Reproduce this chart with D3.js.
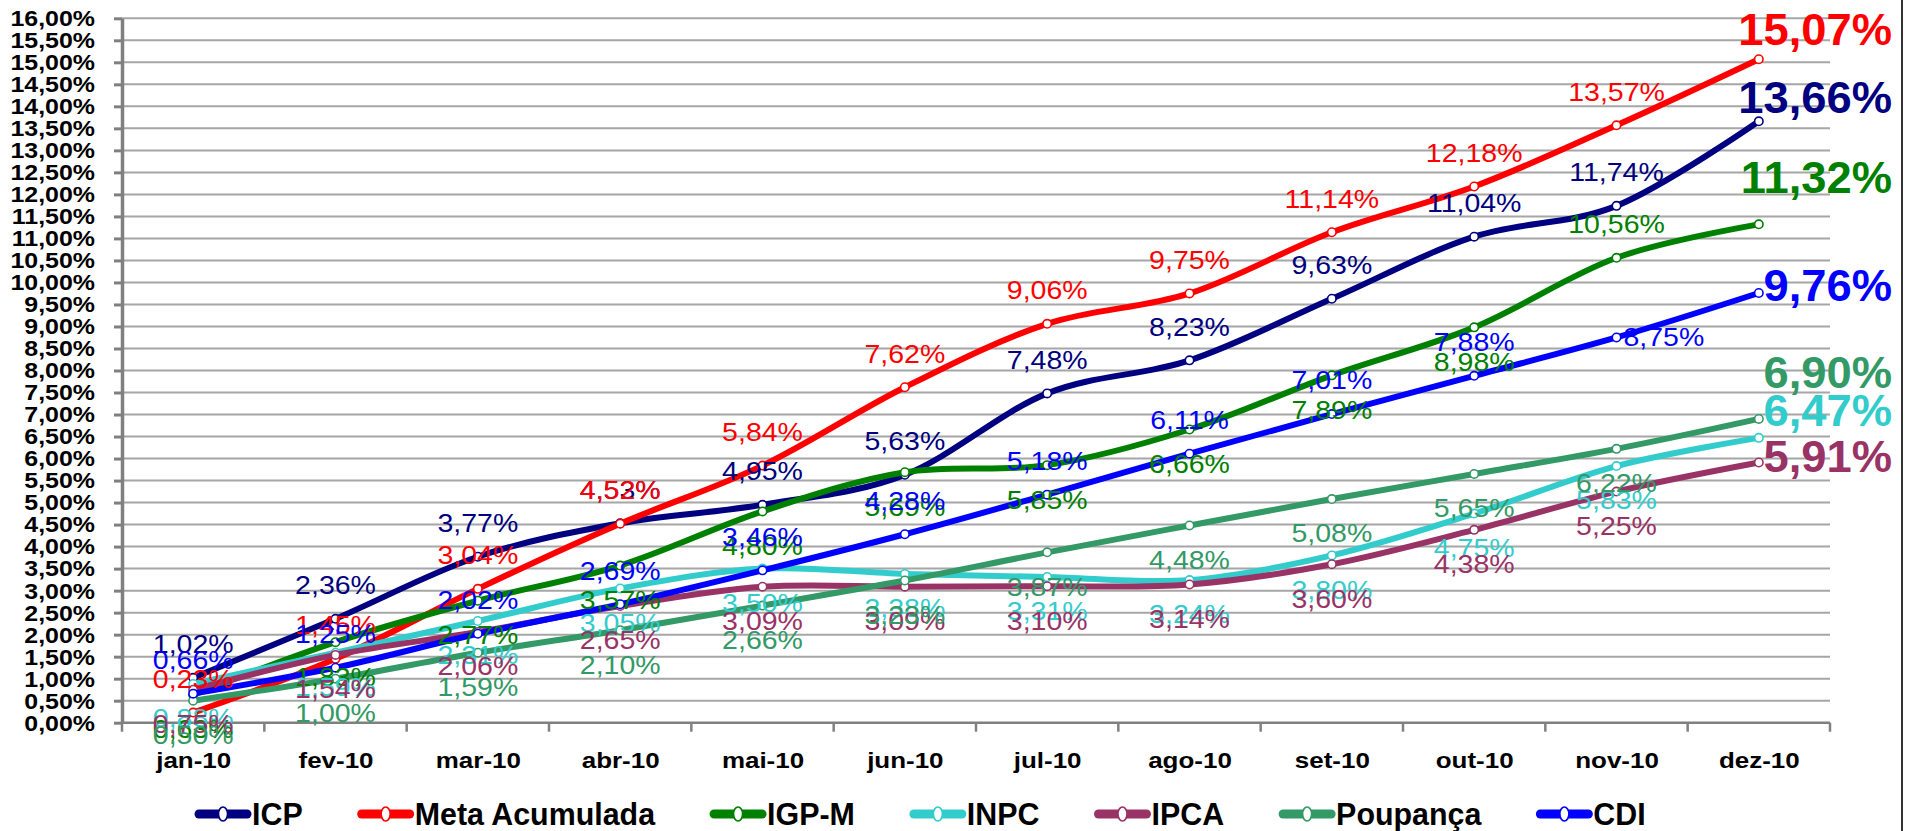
<!DOCTYPE html>
<html>
<head>
<meta charset="utf-8">
<script src="https://cdn.jsdelivr.net/npm/d3@7/dist/d3.min.js"></script>
<style>
  html, body { margin: 0; padding: 0; background: #ffffff; }
  svg { display: block; font-family: "Liberation Sans", Arial, sans-serif; }
</style>
</head>
<body>
<svg id="chart" width="1910" height="831"></svg>
<script>
// ---------- data ----------
const months = ["jan-10","fev-10","mar-10","abr-10","mai-10","jun-10","jul-10","ago-10","set-10","out-10","nov-10","dez-10"];
const seriesNames = ["ICP","Meta Acumulada","IGP-M","INPC","IPCA","Poupança","CDI"];
const icp      = [1.02, 2.36, 3.77, 4.53, 4.95, 5.63, 7.48, 8.23, 9.63, 11.04, 11.74, 13.66];
const meta     = [0.23, 1.45, 3.04, 4.52, 5.84, 7.62, 9.06, 9.75, 11.14, 12.18, 13.57, 15.07];
const igpm     = [0.63, 1.83, 2.77, 3.57, 4.80, 5.69, 5.85, 6.66, 7.89, 8.98, 10.56, 11.32];
const inpc     = [0.88, 1.59, 2.31, 3.05, 3.50, 3.38, 3.31, 3.24, 3.80, 4.75, 5.83, 6.47];
const ipca     = [0.75, 1.54, 2.06, 2.65, 3.09, 3.09, 3.10, 3.14, 3.60, 4.38, 5.25, 5.91];
const poupanca = [0.50, 1.00, 1.59, 2.10, 2.66, 3.23, 3.87, 4.48, 5.08, 5.65, 6.22, 6.90];
const cdi      = [0.66, 1.25, 2.02, 2.69, 3.46, 4.28, 5.18, 6.11, 7.01, 7.88, 8.75, 9.76];
const seriesValues = [icp, meta, igpm, inpc, ipca, poupanca, cdi];
const yTickValues = [0,0.5,1,1.5,2,2.5,3,3.5,4,4.5,5,5.5,6,6.5,7,7.5,8,8.5,9,9.5,10,10.5,11,11.5,12,12.5,13,13.5,14,14.5,15,15.5,16];

// ---------- style ----------
const colors = ["#000080","#FF0000","#008000","#33CCCC","#993366","#339966","#0000FF"];
// label placement per point: a=above, b=below, r=right, F=final big label
const labelPlacement = [
  "aaaaaaaaaaaF",
  "aaaaaaaaaaaF",
  "bbbbbbbbbbaF",
  "bbbbbbbbbbbF",
  "bbbbbbbbbbbF",
  "bbbbbbbbbbbF",
  "aaaaaaaaaarF"
];
const finalDy = [-24, -30, -47, -27, -6, -46, -7];

const svg = d3.select("#chart");
const W = 1910, H = 831;
const plotLeft = 122, plotRight = 1830, plotTop = 18.3, plotBottom = 722.7;

const x = d3.scalePoint().domain(months).range([plotLeft, plotRight]).padding(0.5);
const step = x.step();
const y = d3.scaleLinear().domain([0, 16]).range([plotBottom, plotTop]);

const fmt = v => d3.format(".2f")(v).replace(".", ",") + "%";

// gridlines
svg.append("g").selectAll("line").data(yTickValues.filter(v => v > 0)).join("line")
  .attr("x1", plotLeft).attr("x2", plotRight)
  .attr("y1", d => y(d)).attr("y2", d => y(d))
  .attr("stroke", "#A6A6A6").attr("stroke-width", 2);

// y axis
const yAxis = svg.append("g").attr("transform", `translate(${plotLeft},0)`)
  .call(d3.axisLeft(y).tickValues(yTickValues).tickFormat(fmt).tickSize(8).tickSizeOuter(0));
yAxis.select(".domain").attr("stroke", "#808080").attr("stroke-width", 3.5);
yAxis.selectAll(".tick line").attr("stroke", "#808080").attr("stroke-width", 3);
yAxis.selectAll(".tick text")
  .attr("x", null).attr("dy", null)
  .attr("transform", "translate(-27,0) scale(1.16,1)")
  .attr("dominant-baseline", "central")
  .attr("text-anchor", "end")
  .attr("fill", "#000").attr("font-size", 21.5).attr("font-weight", "bold")
  .attr("font-family", "'Liberation Sans', Arial, sans-serif");

// x axis
const xAxis = svg.append("g").attr("transform", `translate(0,${plotBottom})`)
  .call(d3.axisBottom(x).tickSize(0).tickSizeOuter(0));
xAxis.select(".domain").attr("stroke", "#808080").attr("stroke-width", 2.5)
  .attr("d", `M${plotLeft},0H${plotRight}`);
xAxis.selectAll(".tick text")
  .attr("y", null).attr("dy", null)
  .attr("transform", "translate(0,45) scale(1.18,1)")
  .attr("fill", "#000").attr("font-size", 22).attr("font-weight", "bold")
  .attr("font-family", "'Liberation Sans', Arial, sans-serif");
// boundary ticks
xAxis.append("g").selectAll("line").data(d3.range(months.length + 1)).join("line")
  .attr("x1", i => plotLeft + i * step).attr("x2", i => plotLeft + i * step)
  .attr("y1", 0).attr("y2", 9)
  .attr("stroke", "#808080").attr("stroke-width", 2.5);

// series lines
const line = d3.line().x((d, i) => x(months[i])).y(d => y(d)).curve(d3.curveCardinal.tension(0));
seriesValues.forEach((vals, s) => {
  const g = svg.append("g");
  g.append("path").attr("d", line(vals)).attr("fill", "none")
    .attr("stroke", colors[s]).attr("stroke-width", 6)
    .attr("stroke-linejoin", "round").attr("stroke-linecap", "round");
  g.selectAll("circle").data(vals).join("circle")
    .attr("cx", (d, i) => x(months[i])).attr("cy", d => y(d)).attr("r", 4.2)
    .attr("fill", "#fff").attr("stroke", colors[s]).attr("stroke-width", 1.6);
});

// data labels
seriesValues.forEach((vals, s) => {
  const g = svg.append("g");
  vals.forEach((v, i) => {
    const p = labelPlacement[s][i];
    const px = x(months[i]), py = y(v);
    let tx = px, ty = py, anchor = "middle", size = 25, weight = "normal", sx = 1.14;
    if (p === "a") { ty = py - 33; }
    else if (p === "b") { ty = py + 35; }
    else if (p === "r") { tx = px + 7; anchor = "start"; }
    else if (p === "F") { tx = 1892; ty = py + finalDy[s]; anchor = "end"; size = 44; weight = "bold"; sx = 1.03; }
    g.append("text")
      .attr("transform", `translate(${tx},${ty}) scale(${sx},1)`)
      .attr("text-anchor", anchor).attr("dominant-baseline", "central")
      .attr("font-size", size).attr("font-weight", weight)
      .attr("fill", colors[s]).text(fmt(v));
  });
});

// legend
const legend = svg.append("g");
let lx = 195;
const ly = 814;
const legendScale = 0.95, legendGap = 55;
seriesNames.forEach((name, s) => {
  const g = legend.append("g");
  g.append("line").attr("x1", lx + 4).attr("x2", lx + 52).attr("y1", ly).attr("y2", ly)
    .attr("stroke", colors[s]).attr("stroke-width", 9).attr("stroke-linecap", "round");
  g.append("ellipse").attr("cx", lx + 28).attr("cy", ly).attr("rx", 4.5).attr("ry", 7)
    .attr("fill", "#fff").attr("stroke", colors[s]).attr("stroke-width", 1.6);
  const t = g.append("text")
    .attr("transform", `translate(${lx + 57},${ly + 11}) scale(${legendScale},1)`)
    .attr("font-size", 32).attr("font-weight", "bold").attr("fill", "#000")
    .text(name);
  const w = t.node().getComputedTextLength() * legendScale;
  lx = lx + 57 + w + legendGap;
});

// right border of chart area
svg.append("line").attr("x1", 1902).attr("x2", 1902).attr("y1", 0).attr("y2", H)
  .attr("stroke", "#333").attr("stroke-width", 2);
</script>
</body>
</html>
